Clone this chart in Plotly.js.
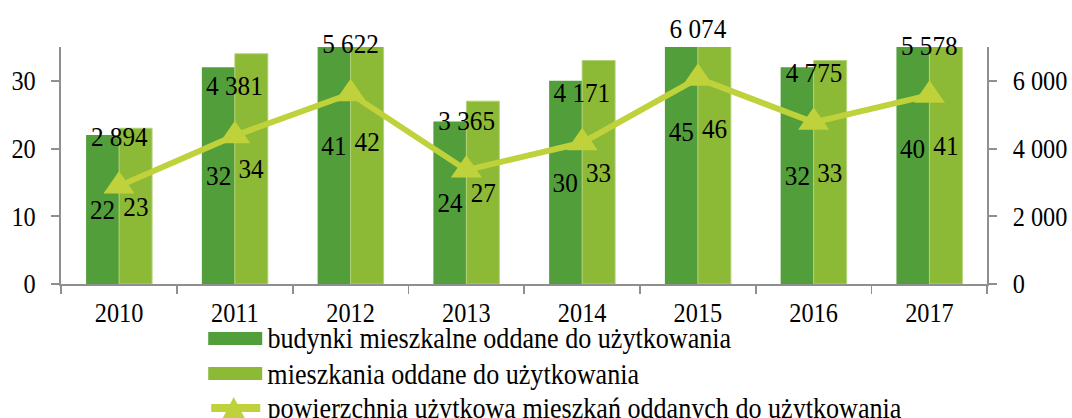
<!DOCTYPE html>
<html>
<head>
<meta charset="utf-8">
<script src="https://cdn.plot.ly/plotly-3.0.1.min.js"></script>
<style>
html,body{margin:0;padding:0;background:#fff;overflow:hidden;}
#wrap{width:1072px;height:418px;overflow:hidden;position:relative;}
#chart{height:418px;transform-origin:0 0;}
</style>
</head>
<body>
<div id="wrap"><div id="chart"></div></div>
<script>
// ---- data ----
const years = ['2010','2011','2012','2013','2014','2015','2016','2017'];
const buildings = [22, 32, 41, 24, 30, 45, 32, 40];
const dwellings = [23, 34, 42, 27, 33, 46, 33, 41];
const floorArea = [2894, 4381, 5622, 3365, 4171, 6074, 4775, 5578];
const seriesNames = [
  'budynki mieszkalne oddane do użytkowania',
  'mieszkania oddane do użytkowania',
  'powierzchnia użytkowa mieszkań oddanych do użytkowania'
];
const leftTicks = [0, 10, 20, 30];
const rightTicks = [0, 2000, 4000, 6000];

// ---- style ----
const C_DARK = '#529E3A', C_LIGHT = '#8CB936', C_LINE = '#BFD13B', C_AXIS = '#8F8F8F';
const FONT = 'Liberation Serif, Times New Roman, serif';
const SX = 0.9;                 // horizontal squeeze of the original picture
const W = 1072, H = 418;
const ML = 61, MR = 85, MT = 47, MB = 134;   // margins in final pixels
const PW = W - ML - MR, PH = H - MT - MB;
const X = px => (px - ML) / PW;
const Y = py => (H - MB - py) / PH;

const chartDiv = document.getElementById('chart');
chartDiv.style.width = (W / SX) + 'px';
chartDiv.style.transform = 'scaleX(' + SX + ')';

const xs = years.map((_, i) => i);
const bounds = years.map((_, i) => i - 0.5).concat([years.length - 0.5]);
const fmt = v => String(v).replace(/\B(?=(\d{3})+(?!\d))/g, ' ');

const bargap = 0.43;
const half = (1 - bargap) / 4;

const traces = [
  {type: 'bar', x: xs, y: buildings, name: seriesNames[0], marker: {color: C_DARK}, showlegend: false, hoverinfo: 'skip'},
  {type: 'bar', x: xs, y: dwellings, name: seriesNames[1], marker: {color: C_LIGHT, line: {color: '#B4D27A', width: 1}}, showlegend: false, hoverinfo: 'skip'},
  {type: 'scatter', mode: 'lines+markers', x: xs, y: floorArea, yaxis: 'y2', name: seriesNames[2],
   line: {color: C_LINE, width: 6}, marker: {symbol: 'triangle-up', size: 30, color: C_LINE}, showlegend: false, hoverinfo: 'skip', cliponaxis: false}
];

const annotations = [];
const labelFont = {family: FONT, size: 28, color: '#000'};
xs.forEach((x, i) => {
  annotations.push({x: x - half, y: buildings[i] / 2, xref: 'x', yref: 'y', text: String(buildings[i]), showarrow: false, font: labelFont, yanchor: 'middle'});
  annotations.push({x: x + half, y: dwellings[i] / 2, xref: 'x', yref: 'y', text: String(dwellings[i]), showarrow: false, font: labelFont, yanchor: 'middle'});
  annotations.push({x: x, y: floorArea[i], xref: 'x', yref: 'y2', text: fmt(floorArea[i]), showarrow: false, font: labelFont, yanchor: 'middle', yshift: 50});
});

// custom legend (long swatches like the original)
const shapes = [];
const legY = [338, 374, 408];
shapes.push({type: 'rect', xref: 'paper', yref: 'paper', x0: X(208), x1: X(262), y0: Y(332), y1: Y(345), fillcolor: C_DARK, line: {width: 0}});
shapes.push({type: 'rect', xref: 'paper', yref: 'paper', x0: X(208), x1: X(262), y0: Y(367), y1: Y(380), fillcolor: C_LIGHT, line: {width: 0}});
shapes.push({type: 'line', xref: 'paper', yref: 'paper', x0: X(211), x1: X(260), y0: Y(408), y1: Y(408), line: {color: C_LINE, width: 8}});
shapes.push({type: 'path', xref: 'paper', yref: 'paper',
  path: `M ${X(222)} ${Y(419)} L ${X(245)} ${Y(419)} L ${X(233.5)} ${Y(397)} Z`, fillcolor: C_LINE, line: {width: 0}});
seriesNames.forEach((n, i) => {
  annotations.push({xref: 'paper', yref: 'paper', x: X(265), y: Y(legY[i]), xanchor: 'left', yanchor: 'middle', text: n, showarrow: false,
    font: {family: FONT, size: 29, color: '#000'}});
});

const axisCommon = {showline: true, linecolor: C_AXIS, linewidth: 2, showgrid: false, zeroline: false,
  ticks: 'outside', ticklen: 8 / SX, tickwidth: 2, tickcolor: C_AXIS, tickfont: {family: FONT, size: 27, color: '#000'}, fixedrange: true};

const layout = {
  width: W / SX, height: H, margin: {l: ML / SX, r: MR / SX, t: MT, b: MB, pad: 0},
  paper_bgcolor: '#fff', plot_bgcolor: '#fff',
  barmode: 'group', bargap: bargap, bargroupgap: 0, separators: ', ', showlegend: false,
  xaxis: Object.assign({}, axisCommon, {range: [-0.5, years.length - 0.5], tickmode: 'array', tickvals: xs, ticktext: years, ticks: '',
    ticklabelstandoff: 4,
    minor: {tickmode: 'array', tickvals: bounds, ticks: 'outside', ticklen: 8, tickwidth: 2, tickcolor: C_AXIS, showgrid: false}}),
  yaxis: Object.assign({}, axisCommon, {range: [0, 35], tickmode: 'array', tickvals: leftTicks, ticklabelstandoff: 12}),
  yaxis2: Object.assign({}, axisCommon, {overlaying: 'y', side: 'right', range: [0, 7000], tickmode: 'array', tickvals: rightTicks, tickformat: ',', ticklabelstandoff: 12}),
  annotations: annotations, shapes: shapes
};

Plotly.newPlot(chartDiv, traces, layout, {displayModeBar: false, staticPlot: true});
</script>
</body>
</html>
